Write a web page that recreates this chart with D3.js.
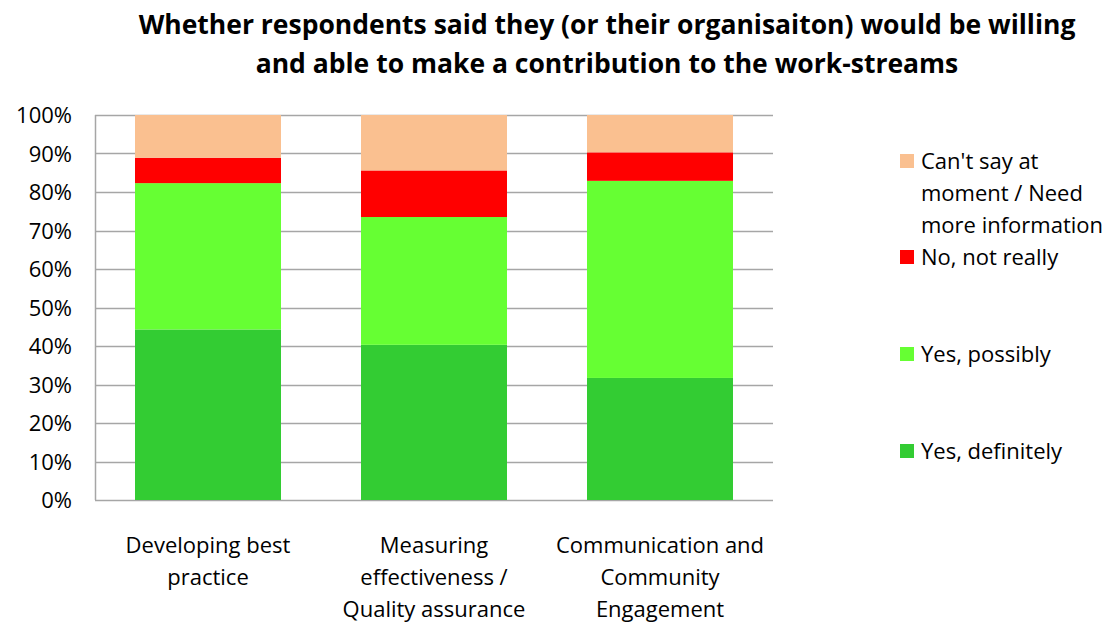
<!DOCTYPE html>
<html>
<head>
<meta charset="utf-8">
<script src="https://cdn.jsdelivr.net/npm/d3@7"></script>
<style>
  body { margin: 0; background: #fff; }
  svg text { font-family: "Open Sans", "Noto Sans", sans-serif; fill: #000; }
</style>
</head>
<body>
<div id="chart"></div>
<script>
// categories (x labels, split into lines)
var categories = ["Developing best practice", "Measuring effectiveness / Quality assurance", "Communication and Community Engagement"];
var categoryLines = [
    ["Developing best", "practice"],
    ["Measuring", "effectiveness /", "Quality assurance"],
    ["Communication and", "Community", "Engagement"]
];
// series, bottom to top (percent)
var seriesNames = ["Yes, definitely", "Yes, possibly", "No, not really", "Can't say at moment / Need more information"];
var yesDefinitely = [44.3, 40.3, 31.7];
var yesPossibly   = [38.0, 33.2, 51.2];
var noNotReally   = [6.6, 12.1, 7.4];
var cantSay       = [11.1, 14.4, 9.7];
var seriesColors = ["#33CC33", "#66FF33", "#FF0000", "#FAC090"];
var yTicks = [0, 10, 20, 30, 40, 50, 60, 70, 80, 90, 100];
// legend rows, top to bottom
var legendItems = [
    {series: 3, lines: ["Can't say at", "moment / Need", "more information"]},
    {series: 2, lines: ["No, not really"]},
    {series: 1, lines: ["Yes, possibly"]},
    {series: 0, lines: ["Yes, definitely"]}
];

var width = 1117, height = 622;
var margin = {left: 95, right: 344, top: 115, bottom: 122};
var plotW = width - margin.left - margin.right,
    plotH = height - margin.top - margin.bottom;
var fontSize = 22;

var rows = categories.map(function(c, i) {
    return {cat: c, s0: yesDefinitely[i], s1: yesPossibly[i], s2: noNotReally[i], s3: cantSay[i]};
});
var stack = d3.stack().keys(["s0", "s1", "s2", "s3"])(rows);

var svg = d3.select("#chart").append("svg")
    .attr("width", width).attr("height", height);

var x = d3.scaleBand().domain(categories).range([0, plotW]).paddingInner(0.354).paddingOuter(0.177);
var y = d3.scaleLinear().domain([0, 100]).range([plotH, 0]);

var g = svg.append("g").attr("transform", "translate(" + margin.left + "," + margin.top + ")");

// gridlines
g.append("g").selectAll("line").data(yTicks).enter().append("line")
    .attr("x1", 0).attr("x2", plotW)
    .attr("y1", function(d) { return Math.round(y(d)) + 0.5; })
    .attr("y2", function(d) { return Math.round(y(d)) + 0.5; })
    .attr("stroke", "#A6A6A6").attr("stroke-width", 1.5);
g.append("line").attr("x1", 0.5).attr("x2", 0.5).attr("y1", 0).attr("y2", plotH)
    .attr("stroke", "#A6A6A6").attr("stroke-width", 1.5);

// bars
g.selectAll("g.series").data(stack).enter().append("g")
    .attr("class", "series")
    .attr("fill", function(d, i) { return seriesColors[i]; })
    .selectAll("rect").data(function(d) { return d; }).enter().append("rect")
    .attr("x", function(d) { return x(d.data.cat); })
    .attr("width", x.bandwidth())
    .attr("y", function(d) { return y(d[1]); })
    .attr("height", function(d) { return y(d[0]) - y(d[1]); });

// y labels
g.append("g").selectAll("text").data(yTicks).enter().append("text")
    .attr("x", -23).attr("y", function(d) { return y(d) + 8; })
    .attr("text-anchor", "end").attr("font-size", fontSize)
    .text(function(d) { return d + "%"; });

// x labels
var xl = g.append("g").selectAll("text").data(categories).enter().append("text")
    .attr("text-anchor", "middle").attr("font-size", fontSize)
    .attr("x", function(d) { return x(d) + x.bandwidth() / 2; });
xl.selectAll("tspan").data(function(d, i) { return categoryLines[i]; }).enter().append("tspan")
    .attr("x", function() { return d3.select(this.parentNode).attr("x"); })
    .attr("y", function(d, i) { return plotH + 53 + i * 32; })
    .text(function(d) { return d; });

// title
svg.append("text").attr("x", 607).attr("y", 34).attr("text-anchor", "middle")
    .attr("font-size", 26.5).attr("font-weight", "bold")
    .text("Whether respondents said they (or their organisaiton) would be willing");
svg.append("text").attr("x", 607).attr("y", 73).attr("text-anchor", "middle")
    .attr("font-size", 26.5).attr("font-weight", "bold")
    .text("and able to make a contribution to the work-streams");

// legend
var legendY = [161, 257, 354, 451];
var lg = svg.append("g").selectAll("g").data(legendItems).enter().append("g")
    .attr("transform", function(d, i) { return "translate(900," + legendY[i] + ")"; });
lg.append("rect").attr("x", 0).attr("y", -7).attr("width", 14).attr("height", 14)
    .attr("fill", function(d) { return seriesColors[d.series]; });
lg.append("text").attr("font-size", fontSize)
    .selectAll("tspan").data(function(d) { return d.lines; }).enter().append("tspan")
    .attr("x", 21).attr("y", function(d, i) { return 8 + i * 32; })
    .text(function(d) { return d; });
</script>
</body>
</html>
